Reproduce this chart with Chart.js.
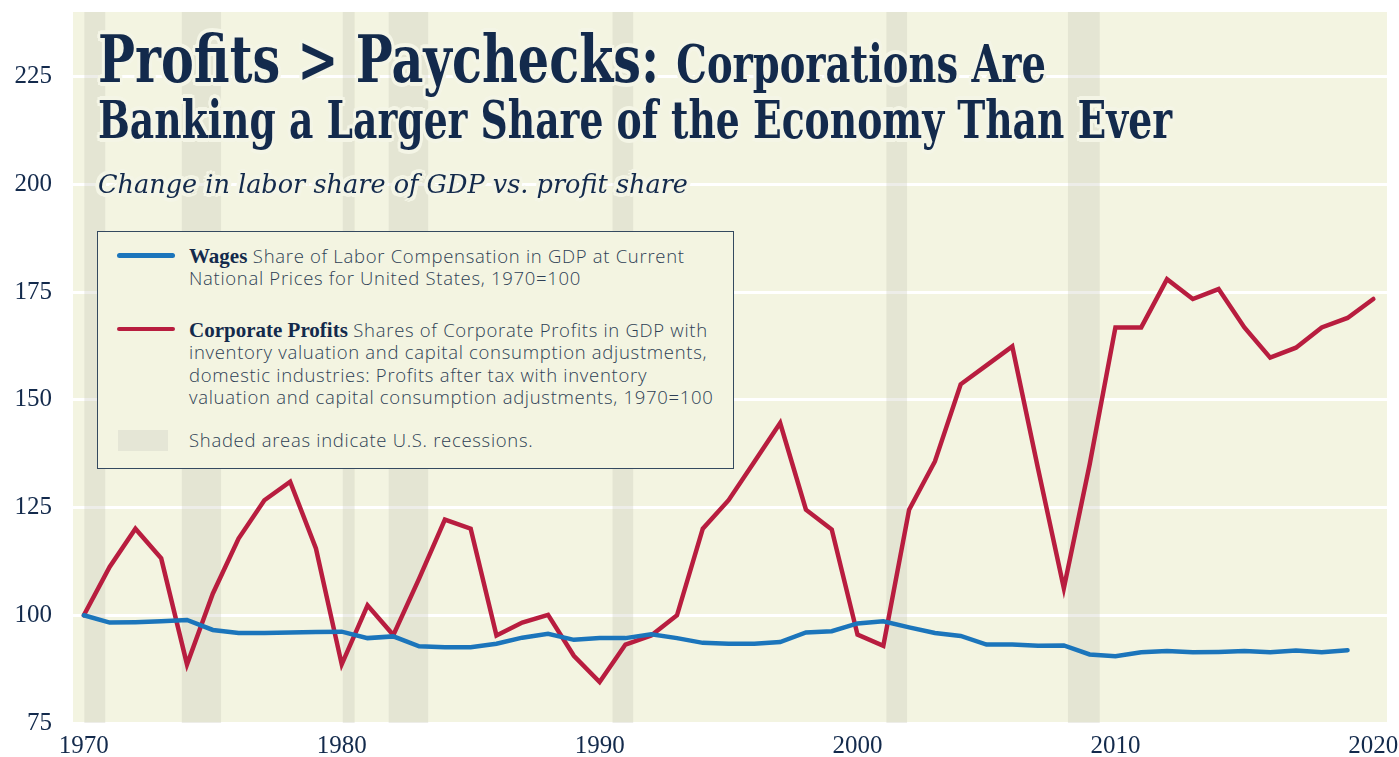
<!DOCTYPE html>
<html>
<head>
<meta charset="utf-8">
<title>Profits &gt; Paychecks</title>
<script src="https://cdn.jsdelivr.net/npm/chart.js@4.4.1/dist/chart.umd.min.js"></script>
<style>
  html, body { margin: 0; padding: 0; background: #fff; }
  #wrap { position: relative; width: 1399px; height: 757px; overflow: hidden; }
  #chart { position: absolute; left: 0; top: 0; }
  .ttl {
    position: absolute; left: 98px; white-space: nowrap; color: #132a4c;
    font-family: "DejaVu Serif", "Liberation Serif", serif; font-weight: bold;
    line-height: 1; transform-origin: 0 0;
    text-shadow: 0 0 3px #f4f5e6, 4px 0 0 #f4f5e6, -4px 0 0 #f4f5e6, 0 4px 0 #f4f5e6, 0 -4px 0 #f4f5e6,
                 3px 3px 0 #f4f5e6, -3px -3px 0 #f4f5e6, 3px -3px 0 #f4f5e6, -3px 3px 0 #f4f5e6;
  }
  #sub { font-weight: normal; font-style: italic; }
  #legend {
    position: absolute; left: 97px; top: 231px; width: 637px; height: 238px;
    box-sizing: border-box; border: 1.5px solid #34495f; background: #f3f4e1;
  }
  .sw { position: absolute; left: 19px; width: 58px; height: 4.5px; border-radius: 3px; }
  .txt {
    position: absolute; left: 91px; white-space: nowrap; color: #2e3f55;
    font-family: "Open Sans", "Noto Sans", sans-serif; font-weight: 300; font-size: 18.5px;
    letter-spacing: 0.7px; line-height: 22.5px;
  }
  .lab { font-family: "Liberation Serif", serif; font-weight: bold; font-size: 21px; color: #132a4c; letter-spacing: 0; }
</style>
</head>
<body>
<div id="wrap">
  <canvas id="chart" width="1399" height="757"></canvas>

  <div class="ttl" data-w="948" style="top:26px;font-size:66px">Profits &gt; Paychecks: <span style="font-size:51.5px">Corporations Are</span></div>
  <div class="ttl" data-w="1074" style="top:95px;font-size:51.5px">Banking a Larger Share of the Economy Than Ever</div>
  <div class="ttl" id="sub" data-w="590" style="top:171px;font-size:26.5px">Change in labor share of GDP vs. profit share</div>

  <div id="legend">
    <div class="sw" style="top:21px;background:#1b75bb"></div>
    <div class="txt" style="top:12.5px"><span class="lab">Wages</span> Share of Labor Compensation in GDP at Current<br>National Prices for United States, 1970=100</div>
    <div class="sw" style="top:94.5px;background:#b81d3f"></div>
    <div class="txt" style="top:86.5px"><span class="lab">Corporate Profits</span> Shares of Corporate Profits in GDP with<br>inventory valuation and capital consumption adjustments,<br>domestic industries: Profits after tax with inventory<br>valuation and capital consumption adjustments, 1970=100</div>
    <div style="position:absolute;left:20px;top:198px;width:50px;height:21px;background:#e5e6d6"></div>
    <div class="txt" style="top:196.5px">Shaded areas indicate U.S. recessions.</div>
  </div>
</div>

<script>
// data (annual, 1970 = 100)
const years = [1970, 1971, 1972, 1973, 1974, 1975, 1976, 1977, 1978, 1979,
  1980, 1981, 1982, 1983, 1984, 1985, 1986, 1987, 1988, 1989,
  1990, 1991, 1992, 1993, 1994, 1995, 1996, 1997, 1998, 1999,
  2000, 2001, 2002, 2003, 2004, 2005, 2006, 2007, 2008, 2009,
  2010, 2011, 2012, 2013, 2014, 2015, 2016, 2017, 2018, 2019, 2020];

const wages = [100.0, 98.3, 98.4, 98.6, 98.9, 96.6, 95.9, 95.9, 96.0, 96.1,
  96.2, 94.7, 95.1, 92.8, 92.6, 92.6, 93.4, 94.8, 95.7, 94.3,
  94.7, 94.7, 95.6, 94.7, 93.6, 93.4, 93.4, 93.8, 96.0, 96.3,
  98.1, 98.6, 97.2, 95.9, 95.2, 93.2, 93.2, 92.9, 93.0, 90.9,
  90.5, 91.4, 91.7, 91.4, 91.5, 91.7, 91.4, 91.8, 91.4, 91.9];

const profits = [100.0, 111.2, 120.1, 113.2, 88.6, 105.0, 117.8, 126.7, 131.0, 115.5,
  88.6, 102.3, 95.4, 108.5, 122.2, 120.1, 95.3, 98.3, 100.1, 90.6,
  84.5, 93.2, 95.3, 100.0, 120.1, 126.7, 135.6, 144.6, 124.5, 119.9,
  95.5, 92.9, 124.5, 135.7, 153.6, 158.0, 162.4, 134.0, 106.3, 135.0,
  166.8, 166.8, 178.0, 173.4, 175.7, 166.8, 159.8, 162.1, 166.8, 169.0, 173.4];

// recession bands (fractional years)
const recessionStart = [1970.02, 1973.80, 1980.04, 1981.82, 1990.50, 2001.12, 2008.16];
const recessionEnd = [1970.83, 1975.32, 1980.50, 1983.35, 1991.30, 2001.92, 2009.39];

const xTicks = [1970, 1980, 1990, 2000, 2010, 2020];
const yTicks = [75, 100, 125, 150, 175, 200, 225];

const NAVY = '#132a4c';
const BEIGE = '#f3f4e1';

// beige plot area
const plotBg = {
  id: 'plotBg',
  beforeDraw(chart) {
    const a = chart.chartArea, ctx = chart.ctx;
    ctx.save();
    ctx.fillStyle = BEIGE;
    ctx.fillRect(a.left, a.top, a.right - a.left, a.bottom - a.top);
    ctx.restore();
  }
};

// grey recession shading, drawn over the grid but under the lines
const recessions = {
  id: 'recessions',
  beforeDatasetsDraw(chart) {
    const a = chart.chartArea, ctx = chart.ctx, x = chart.scales.x;
    ctx.save();
    ctx.fillStyle = 'rgba(195,195,180,0.3)';
    recessionStart.forEach((s, i) => {
      const x0 = x.getPixelForValue(s), x1 = x.getPixelForValue(recessionEnd[i]);
      ctx.fillRect(x0, a.top, x1 - x0, a.bottom - a.top);
    });
    ctx.restore();
  }
};

const toPoints = vals => vals.map((v, i) => ({ x: years[i], y: v }));

new Chart(document.getElementById('chart'), {
  type: 'line',
  data: {
    datasets: [
      { label: 'Wages', data: toPoints(wages), borderColor: '#1b75bb', borderWidth: 4.5,
        pointRadius: 0, tension: 0, borderCapStyle: 'round' },
      { label: 'Corporate Profits', data: toPoints(profits), borderColor: '#b81d3f', borderWidth: 4.5,
        pointRadius: 0, tension: 0, borderCapStyle: 'round' }
    ]
  },
  options: {
    responsive: false,
    animation: false,
    devicePixelRatio: 1,
    layout: { padding: { left: 0, right: 12, top: 12, bottom: 0 } },
    plugins: { legend: { display: false }, tooltip: { enabled: false }, title: { display: false } },
    scales: {
      x: {
        type: 'linear', min: 1969.58, max: 2020.53,
        afterBuildTicks: s => { s.ticks = xTicks.map(v => ({ value: v })); },
        afterFit: s => { s.height = 34; s.paddingLeft = 0; s.paddingRight = 0; },
        grid: { display: false, drawTicks: false },
        border: { display: false },
        ticks: { color: NAVY, padding: 8, maxRotation: 0, autoSkip: false,
          font: { family: '"Liberation Serif", serif', size: 25 }, callback: v => String(v) }
      },
      y: {
        min: 75, max: 240,
        afterBuildTicks: s => { s.ticks = yTicks.map(v => ({ value: v })); },
        afterFit: s => { s.width = 73; s.paddingTop = 0; s.paddingBottom = 0; },
        grid: { color: '#ffffff', lineWidth: 3, drawTicks: false },
        border: { display: false },
        ticks: { color: NAVY, padding: 21,
          font: { family: '"Liberation Serif", serif', size: 25 }, callback: v => String(v) }
      }
    }
  },
  plugins: [plotBg, recessions]
});

// squeeze the title lines to the condensed widths of the reference
function fitTitles() {
  document.querySelectorAll('[data-w]').forEach(el => {
    el.style.transform = 'none';
    const w = el.getBoundingClientRect().width;
    el.style.transform = 'scaleX(' + (parseFloat(el.dataset.w) / w) + ')';
  });
}
fitTitles();
if (document.fonts && document.fonts.ready) document.fonts.ready.then(fitTitles);
</script>
</body>
</html>
